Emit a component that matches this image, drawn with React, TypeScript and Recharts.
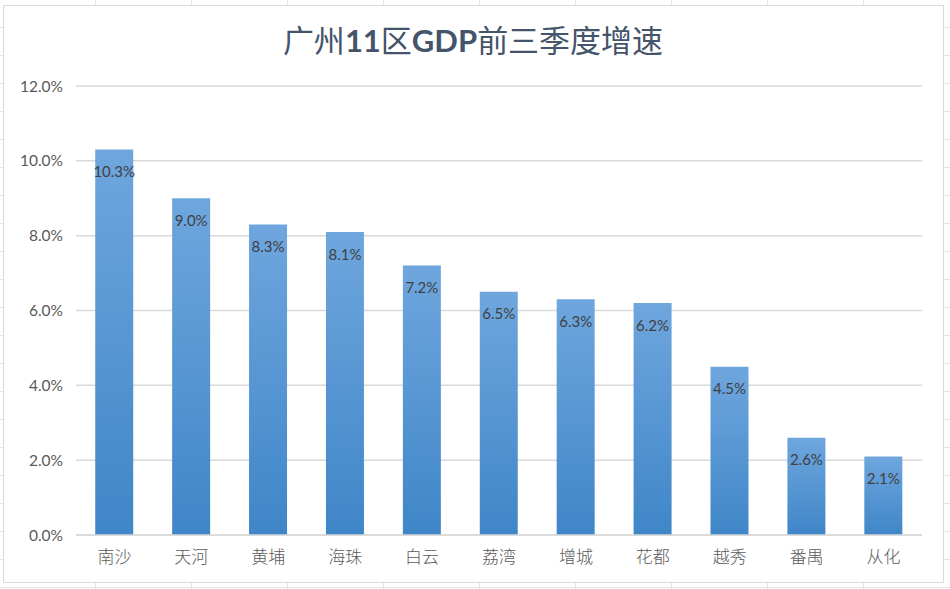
import React from "react";
import { Bar, BarChart, CartesianGrid, LabelList, XAxis, YAxis } from "recharts";

const districts = ["南沙", "天河", "黄埔", "海珠", "白云", "荔湾", "增城", "花都", "越秀", "番禺", "从化"];
const growth = [10.3, 9.0, 8.3, 8.1, 7.2, 6.5, 6.3, 6.2, 4.5, 2.6, 2.1];
const yTicks = [0, 2, 4, 6, 8, 10, 12];

const data = districts.map((name, i) => ({ name, growth: growth[i] }));

const pct = (v: number) => `${v.toFixed(1)}%`;

export default function App() {
  return (
    <div
      style={{
        position: "absolute",
        left: 0,
        top: 0,
        width: 950,
        height: 589,
        overflow: "hidden",
        backgroundColor: "#fff",
        backgroundImage:
          "repeating-linear-gradient(to bottom, transparent 0 27px, #e3e3e3 27px 28px), repeating-linear-gradient(to right, transparent 0 95px, #e3e3e3 95px 96px)",
      }}
    >
      {/* chart box */}
      <div
        style={{
          position: "absolute",
          left: 3,
          top: 5,
          width: 939,
          height: 576,
          background: "#fff",
          border: "1px solid #d9d9d9",
        }}
      />
      <div
        style={{
          position: "absolute",
          left: 0,
          width: 946,
          top: 20,
          textAlign: "center",
          fontFamily: "Lato, 'Noto Sans CJK SC', sans-serif",
          fontSize: 31,
          color: "#44546a",
          lineHeight: "40px",
        }}
      >
        广州<b>11</b>区<b>GDP</b>前三季度增速
      </div>
      <div style={{ position: "absolute", left: 0, top: 0 }}>
        <BarChart
          width={950}
          height={589}
          data={data}
          margin={{ top: 86, right: 28, bottom: 24, left: 0 }}
          barCategoryGap="25%"
        >
          <defs>
            <linearGradient id="barFill" x1="0" y1="0" x2="0" y2="1">
              <stop offset="0%" stopColor="#6fa6de" />
              <stop offset="100%" stopColor="#3f86c8" />
            </linearGradient>
          </defs>
          <CartesianGrid vertical={false} stroke="#d9d9d9" strokeWidth={1.5} />
          <XAxis
            dataKey="name"
            height={30}
            axisLine={{ stroke: "#d9d9d9", strokeWidth: 1.5 }}
            tickLine={false}
            tickMargin={10}
            interval={0}
            tick={{ fill: "#595959", fontSize: 17, fontFamily: "'Noto Sans CJK SC', sans-serif", fontWeight: 300 }}
          />
          <YAxis
            width={76}
            domain={[0, 12]}
            ticks={yTicks}
            tickFormatter={pct}
            axisLine={false}
            tickLine={false}
            tickMargin={7}
            tick={{ fill: "#595959", fontSize: 15.5, fontFamily: "Lato, sans-serif" }}
          />
          <Bar dataKey="growth" fill="url(#barFill)" isAnimationActive={false}>
            <LabelList
              dataKey="growth"
              position="insideTop"
              offset={17}
              formatter={(v: number) => pct(v)}
              fill="#404040"
              style={{ fontSize: 15, fontFamily: "Lato, sans-serif" }}
            />
          </Bar>
        </BarChart>
      </div>
    </div>
  );
}
